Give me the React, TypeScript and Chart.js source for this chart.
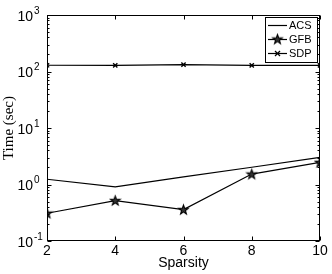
import React, { useEffect, useRef } from "react";
import { Chart, registerables } from "chart.js";

Chart.register(...registerables);

const sparsity = [2, 4, 6, 8, 10];
const acsTime = [1.24, 0.91, 1.36, 2.02, 3.03];
const gfbTime = [0.31, 0.52, 0.36, 1.53, 2.47];
const sdpTime = [129, 128, 132, 128, 128];
const seriesLabels = ["ACS", "GFB", "SDP"];
const yTickValues = [1000, 100, 10, 1, 0.1];
const yTickExponents = ["3", "2", "1", "0", "-1"];

const SANS = "'Liberation Sans', Arial, Helvetica, sans-serif";
const SERIF = "'Liberation Serif', 'Times New Roman', serif";

function makeStar(): HTMLCanvasElement {
  const c = document.createElement("canvas");
  c.width = 13;
  c.height = 13;
  const g = c.getContext("2d")!;
  const cx = 6.5, cy = 6.9, R = 5.0, r = 2.0;
  g.beginPath();
  for (let i = 0; i < 10; i++) {
    const ang = -Math.PI / 2 + (i * Math.PI) / 5;
    const rad = i % 2 === 0 ? R : r;
    const px = cx + rad * Math.cos(ang);
    const py = cy + rad * Math.sin(ang);
    if (i === 0) g.moveTo(px, py);
    else g.lineTo(px, py);
  }
  g.closePath();
  g.fillStyle = "#333";
  g.fill();
  g.lineWidth = 1.1;
  g.strokeStyle = "#000";
  g.lineJoin = "miter";
  g.stroke();
  return c;
}

export default function App() {
  const ref = useRef<HTMLCanvasElement | null>(null);

  useEffect(() => {
    document.body.style.margin = "0";
    const canvas = ref.current!;
    const star = makeStar();

    const framePlugin = {
      id: "frame",
      afterDraw(chart: any) {
        const { ctx, chartArea: a, scales } = chart;
        const xs = scales.x;
        const ys = scales.y;
        ctx.save();
        ctx.strokeStyle = "#000";
        ctx.lineWidth = 1;
        const L = Math.round(a.left) + 0.5;
        const R = Math.round(a.right) - 0.5;
        const T = Math.round(a.top) + 0.5;
        const B = Math.round(a.bottom) - 0.5;
        ctx.strokeRect(L, T, R - L, B - T);
        const line = (x1: number, y1: number, x2: number, y2: number) => {
          ctx.beginPath();
          ctx.moveTo(x1, y1);
          ctx.lineTo(x2, y2);
          ctx.stroke();
        };
        for (const v of sparsity) {
          const px = Math.round(xs.getPixelForValue(v)) + 0.5;
          line(px, B, px, B - 4);
          line(px, T, px, T + 4);
        }
        for (let e = -1; e <= 3; e++) {
          for (let m = 1; m <= 9; m++) {
            const v = m * Math.pow(10, e);
            if (v > 1000.0001) break;
            const py = Math.round(ys.getPixelForValue(v)) + 0.5;
            const len = m === 1 ? 4 : 2;
            line(L, py, L + len, py);
            line(R, py, R - len, py);
          }
        }
        ctx.fillStyle = "#000";
        yTickValues.forEach((v, i) => {
          const py = ys.getPixelForValue(v);
          ctx.font = `14px ${SANS}`;
          ctx.textAlign = "right";
          ctx.textBaseline = "middle";
          ctx.fillText("10", 33, py + 2);
          ctx.font = `10px ${SANS}`;
          ctx.textAlign = "left";
          ctx.fillText(yTickExponents[i], 34, py - 4);
        });
        const bx = 265.5, by = 17.5, bw = 52, bh = 45;
        ctx.fillStyle = "#fff";
        ctx.fillRect(bx, by, bw, bh);
        ctx.strokeRect(bx, by, bw, bh);
        const rows = [25, 39, 53];
        ctx.font = `11px ${SANS}`;
        ctx.textAlign = "left";
        ctx.textBaseline = "middle";
        chart.data.datasets.forEach((ds: any, i: number) => {
          const ly = rows[i] + 0.5;
          ctx.lineWidth = 1.2;
          line(268, ly, 287, ly);
          if (i === 1) {
            ctx.drawImage(star, 277.5 - 6.5, ly - 6.9);
          } else if (i === 2) {
            const s = 2.5;
            line(277.5 - s, ly - s, 277.5 + s, ly + s);
            line(277.5 - s, ly + s, 277.5 + s, ly - s);
          }
          ctx.fillStyle = "#000";
          ctx.fillText(ds.label, 289, ly + 0.5);
        });
        ctx.restore();
      },
    };

    const mk = (vals: number[]) => sparsity.map((s, i) => ({ x: s, y: vals[i] }));

    const chart = new Chart(canvas, {
      type: "line",
      data: {
        datasets: [
          {
            label: seriesLabels[0],
            data: mk(acsTime),
            borderColor: "#000",
            borderWidth: 1.2,
            pointRadius: 0,
            fill: false,
          },
          {
            label: seriesLabels[1],
            data: mk(gfbTime),
            borderColor: "#000",
            borderWidth: 1.2,
            pointStyle: star as any,
            pointRadius: 5,
            fill: false,
          },
          {
            label: seriesLabels[2],
            data: mk(sdpTime),
            borderColor: "#000",
            borderWidth: 1.2,
            pointStyle: "crossRot",
            pointRadius: 3,
            pointBorderWidth: 1.4,
            fill: false,
          },
        ],
      },
      options: {
        responsive: false,
        animation: false,
        devicePixelRatio: 1,
        layout: { padding: { top: 15, right: 12, left: 0, bottom: 0 } },
        plugins: {
          legend: { display: false },
          tooltip: { enabled: false },
        },
        scales: {
          x: {
            type: "linear",
            min: 2,
            max: 10,
            ticks: {
              stepSize: 2,
              color: "#000",
              padding: 2,
              font: { family: SANS, size: 14 },
            },
            grid: { display: false, drawTicks: false },
            border: { display: false },
            title: {
              display: true,
              text: "Sparsity",
              color: "#000",
              font: { family: SANS, size: 14 },
              padding: { top: 0, bottom: 2 },
            },
            afterFit: (s: any) => {
              s.height = 33;
            },
          },
          y: {
            type: "logarithmic",
            min: 0.1,
            max: 1000,
            ticks: { display: false },
            grid: { display: false, drawTicks: false },
            border: { display: false },
            title: {
              display: true,
              text: "Time (sec)",
              color: "#000",
              font: { family: SERIF, size: 15 },
              padding: 0,
            },
            afterFit: (s: any) => {
              s.width = 47;
            },
          },
        },
      },
      plugins: [framePlugin],
    } as any);

    return () => chart.destroy();
  }, []);

  return <canvas ref={ref} width={332} height={274} style={{ display: "block" }} />;
}
